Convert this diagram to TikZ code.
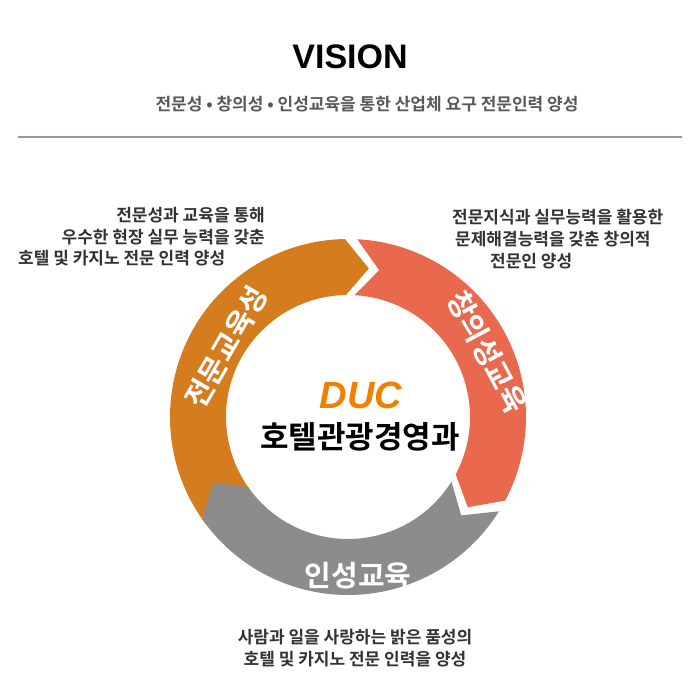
\documentclass[tikz,border=0pt]{standalone}
\usepackage{fontspec}
\setmainfont{Noto Sans CJK KR}
\newfontfamily\kb{Noto Sans CJK KR Bold}
\newfontfamily\ttl{Liberation Sans}
\definecolor{cor}{HTML}{D47C1E}
\definecolor{cred}{HTML}{E8694D}
\definecolor{cgr}{HTML}{8C8C8C}
\definecolor{cline}{HTML}{8F9A94}
\definecolor{duc}{HTML}{F08000}
\begin{document}
\begin{tikzpicture}[x=1pt,y=-1pt,
  desc/.style={font=\kb\fontsize{17}{19}\selectfont, text=black!80, inner sep=0pt},
  ringlbl/.style={font=\kb\fontsize{29}{32}\selectfont, text=white, inner sep=0pt}]
\useasboundingbox (0,0) rectangle (700,700);
\node[font=\ttl\bfseries\fontsize{34}{38}\selectfont] (vis) at (350,57) {VISION};
\node[font=\kb\fontsize{17}{19}\selectfont, text=black!65] (sub) at (367,104) {전문성 • 창의성 • 인성교육을 통한 산업체 요구 전문인력 양성};
\coordinate (l1) at (18,137); \coordinate (l2) at (682,137);
\draw[cline, line width=2pt] (l1) -- (l2);
\begin{scope}[shift={(348,417)}]
\def\Ro{178pt}\def\Ri{122pt}\def\Rm{150pt}
\def\seg#1#2#3{\fill[#3] (#1:\Ro) arc[start angle=#1, end angle=#2, radius=\Ro] -- ({#2-9}:\Rm) -- (#2:\Ri) arc[start angle=#2, end angle=#1, radius=\Ri] -- ({#1-9}:\Rm) -- cycle;}
\seg{217}{91}{cor}
\seg{87}{-28}{cred}
\seg{-32}{-145}{cgr}
\end{scope}
\node[ringlbl, rotate=60] (t1) at (226,347) {전문교육성};
\node[ringlbl, rotate=-62] (t2) at (487,352) {창의성교육};
\node[ringlbl] (t3) at (358,576) {인성교육};
\node[font=\ttl\bfseries\itshape\fontsize{38}{40}\selectfont, text=duc] (d) at (361,395) {DUC};
\node[font=\kb\fontsize{31}{34}\selectfont] (c) at (360,437) {호텔관광경영과};
\node[desc, anchor=east] (a1) at (265,215) {전문성과 교육을 통해};
\node[desc, anchor=east] (a2) at (265,237) {우수한 현장 실무 능력을 갖춘};
\node[desc, anchor=west] (a3) at (18,258) {호텔 및 카지노 전문 인력 양성};
\node[desc, anchor=west] (b1) at (452,217) {전문지식과 실무능력을 활용한};
\node[desc, anchor=west] (b2) at (455,239) {문제해결능력을 갖춘 창의적};
\node[desc, anchor=west] (b3) at (490,261) {전문인 양성};
\node[desc] (c1) at (355,637) {사람과 일을 사랑하는 밝은 품성의};
\node[desc] (c2) at (355,659) {호텔 및 카지노 전문 인력을 양성};
\end{tikzpicture}
\end{document}
